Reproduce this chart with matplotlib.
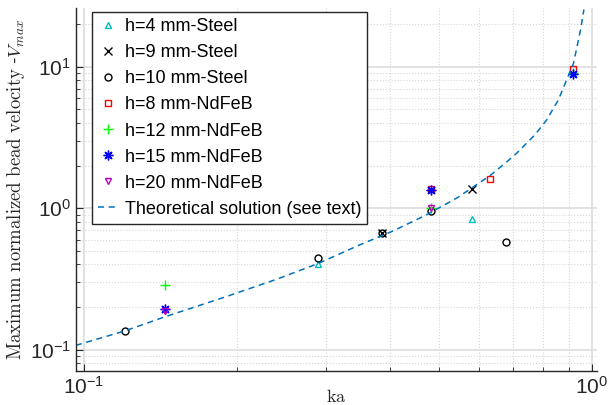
import matplotlib
matplotlib.use("Agg")
import matplotlib.pyplot as plt
from matplotlib.ticker import LogLocator, NullFormatter

plt.rcParams['font.family'] = ['Liberation Sans', 'DejaVu Sans']
plt.rcParams['mathtext.fontset'] = 'cm'

# measured data (ka, normalized max velocity)
ka_h4_steel = [0.289, 0.581]
v_h4_steel = [0.40, 0.836]
ka_h9_steel = [0.386, 0.581]
v_h9_steel = [0.662, 1.36]
ka_h10_steel = [0.1204, 0.289, 0.386, 0.482, 0.677]
v_h10_steel = [0.136, 0.441, 0.662, 0.955, 0.575]
ka_h8_ndfeb = [0.482, 0.630, 0.919]
v_h8_ndfeb = [1.36, 1.61, 9.7]
ka_h12_ndfeb = [0.1443, 0.482, 0.919]
v_h12_ndfeb = [0.286, 1.0, 9.1]
ka_h15_ndfeb = [0.1443, 0.482, 0.919]
v_h15_ndfeb = [0.195, 1.34, 8.9]
ka_h20_ndfeb = [0.1443, 0.482]
v_h20_ndfeb = [0.187, 0.995]

# theoretical curve
ka_theory = [0.0963, 0.12, 0.144, 0.19, 0.24, 0.289, 0.349, 0.406, 0.473, 0.542,
             0.63, 0.679, 0.711, 0.772, 0.814, 0.858, 0.898, 0.919, 0.933, 0.95, 0.964]
v_theory = [0.107, 0.135, 0.170, 0.236, 0.315, 0.406, 0.55, 0.69, 0.90, 1.18,
            1.70, 2.12, 2.45, 3.3, 4.2, 5.8, 8.6, 10.5, 13.5, 18.5, 25.4]

fig = plt.figure(figsize=(6.12, 4.05), dpi=100)
ax = fig.add_axes([0.1242, 0.084, 0.8513, 0.896])

ms = 5
asterisk = (8, 2, 0)
ax.plot(ka_h4_steel, v_h4_steel, '^', color='c', mfc='none', ms=ms, label='h=4 mm-Steel')
ax.plot(ka_h9_steel, v_h9_steel, 'x', color='k', ms=ms + 1, label='h=9 mm-Steel')
ax.plot(ka_h10_steel, v_h10_steel, 'o', color='k', mfc='none', ms=ms, label='h=10 mm-Steel')
ax.plot(ka_h8_ndfeb, v_h8_ndfeb, 's', color='r', mfc='none', ms=ms, label='h=8 mm-NdFeB')
ax.plot(ka_h12_ndfeb, v_h12_ndfeb, '+', color='#00ff00', ms=ms + 2, label='h=12 mm-NdFeB')
ax.plot(ka_h15_ndfeb, v_h15_ndfeb, marker=asterisk, ls='none', color='b', ms=ms + 2,
        mew=1.0, label='h=15 mm-NdFeB')
ax.plot(ka_h20_ndfeb, v_h20_ndfeb, 'v', color='m', mfc='none', ms=ms, label='h=20 mm-NdFeB')
ax.plot(ka_theory, v_theory, '--', color='#0072BD', lw=1.1, dashes=(4, 3),
        label='Theoretical solution (see text)')

ax.set_xscale('log')
ax.set_yscale('log')
ax.set_xlim(0.0964, 1.023)
ax.set_ylim(0.0705, 26)

ax.xaxis.set_minor_locator(LogLocator(base=10, subs=range(2, 10)))
ax.yaxis.set_minor_locator(LogLocator(base=10, subs=range(2, 10)))
ax.xaxis.set_minor_formatter(NullFormatter())
ax.yaxis.set_minor_formatter(NullFormatter())

ax.grid(True, which='major', color='#dddddd', lw=1.2, ls='-')
ax.grid(True, which='minor', color='#d6d6d6', lw=0.8, ls=':')
ax.set_axisbelow(True)

for s in ['top', 'right']:
    ax.spines[s].set_visible(False)
for s in ['left', 'bottom']:
    ax.spines[s].set_color('#262626')
    ax.spines[s].set_linewidth(1.0)
ax.tick_params(which='both', direction='in', colors='#262626', labelsize=15)
ax.tick_params(which='major', length=5)
ax.tick_params(which='minor', length=3)

ax.set_xlabel(r'$\mathrm{ka}$', fontsize=13, color='#262626', labelpad=-6)
ax.set_ylabel(r'$\mathrm{Maximum\ normalized\ bead\ velocity\ }$-$V_{max}$',
              fontsize=13.5, color='#262626', labelpad=2)

leg = ax.legend(loc='upper left', fontsize=13, frameon=True, fancybox=False,
                borderpad=0.35, labelspacing=0.5, handlelength=1.0, handletextpad=0.45,
                borderaxespad=0, bbox_to_anchor=(0.031, 0.989))
leg.get_frame().set_edgecolor('#262626')
leg.get_frame().set_linewidth(1.0)
leg.get_frame().set_alpha(1)

fig.savefig('out.png', dpi=100)
